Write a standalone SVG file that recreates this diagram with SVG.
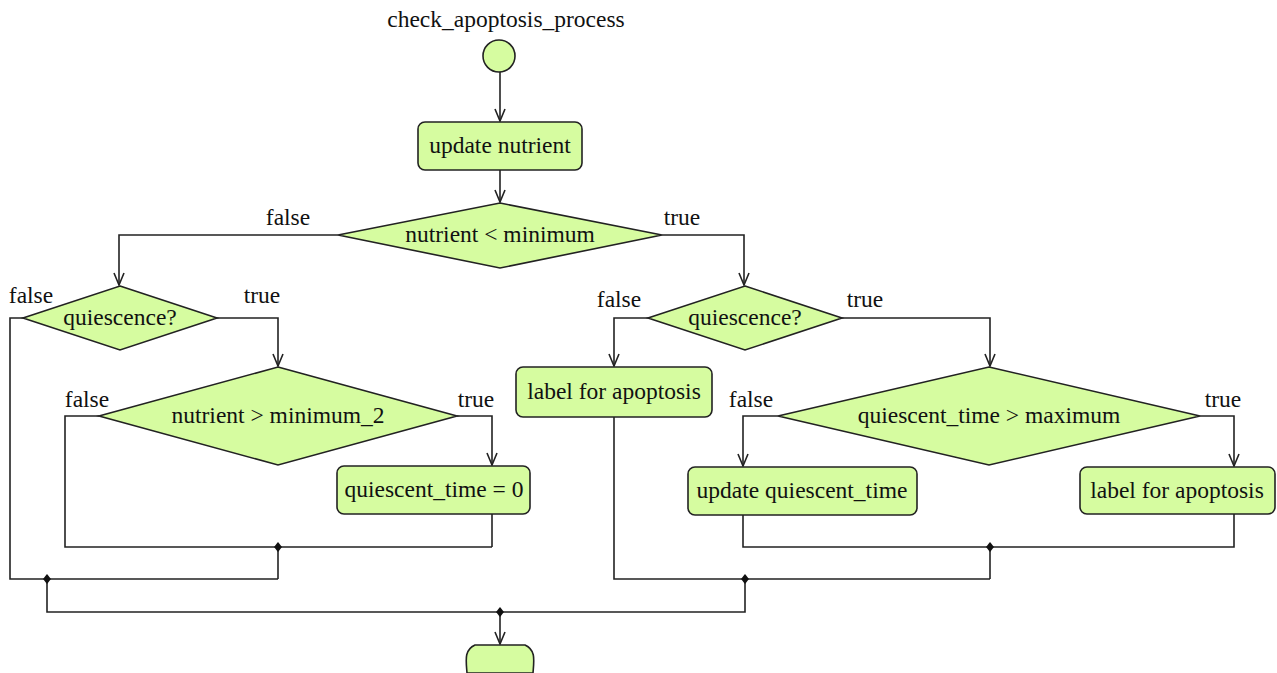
<svg xmlns="http://www.w3.org/2000/svg" width="1277" height="673" viewBox="0 0 1277 673">
  <style>
    .node { fill: #d6fca0; stroke: #222; stroke-width: 1.6; }
    .wire { fill: none; stroke: #222; stroke-width: 1.6; }
    .dot { fill: #111; }
    .lbl { fill: #111; text-anchor: middle; }
  </style>
  <defs>
    <marker id="arrow" markerWidth="16" markerHeight="16" viewBox="-14 -8 16 16" refX="0" refY="0" orient="auto" markerUnits="userSpaceOnUse">
      <path d="M-12,-5 L0,0 L-12,5" fill="none" stroke="#222" stroke-width="1.6"/>
    </marker>
  </defs>

  <text x="506" y="27" class="lbl" font-family="Liberation Serif" font-size="23.5">check_apoptosis_process</text>

  <!-- connectors -->
  <g id="connectors">
    <path class="wire" d="M500,72 V121" marker-end="url(#arrow)"/>
    <path class="wire" d="M500,170 V202" marker-end="url(#arrow)"/>
    <!-- nutrient < minimum : false -->
    <path class="wire" d="M338,235 H119 V285" marker-end="url(#arrow)"/>
    <!-- nutrient < minimum : true -->
    <path class="wire" d="M662,235 H744 V285" marker-end="url(#arrow)"/>
    <!-- left quiescence -->
    <path class="wire" d="M23,318 H10 V579 H278"/>
    <path class="wire" d="M217,318 H278 V366" marker-end="url(#arrow)"/>
    <!-- nutrient > minimum_2 -->
    <path class="wire" d="M99,416 H65 V547 H492"/>
    <path class="wire" d="M457,416 H492 V465" marker-end="url(#arrow)"/>
    <path class="wire" d="M492,514 V547"/>
    <path class="wire" d="M278,547 V579"/>
    <!-- right quiescence -->
    <path class="wire" d="M648,318 H614 V366" marker-end="url(#arrow)"/>
    <path class="wire" d="M614,417 V579 H990"/>
    <path class="wire" d="M842,318 H990 V366" marker-end="url(#arrow)"/>
    <!-- quiescent_time > maximum -->
    <path class="wire" d="M778,416 H743 V466" marker-end="url(#arrow)"/>
    <path class="wire" d="M1200,416 H1234 V466" marker-end="url(#arrow)"/>
    <path class="wire" d="M743,515 V547 H1234 V514"/>
    <path class="wire" d="M990,547 V579"/>
    <!-- final merge -->
    <path class="wire" d="M47,579 V612 H745 V579"/>
    <path class="wire" d="M500,612 V644" marker-end="url(#arrow)"/>
    <!-- junction points -->
    <path class="dot" d="M278,542 L282,547 L278,552 L274,547 Z"/>
    <path class="dot" d="M47,574 L51,579 L47,584 L43,579 Z"/>
    <path class="dot" d="M990,542 L994,547 L990,552 L986,547 Z"/>
    <path class="dot" d="M745,574 L749,579 L745,584 L741,579 Z"/>
    <path class="dot" d="M500,607 L504,612 L500,617 L496,612 Z"/>
  </g>

  <g id="start">
    <circle class="node" cx="499" cy="56" r="16"/>
  </g>

  <g id="update-nutrient">
    <rect class="node" x="418" y="122" width="164" height="48" rx="7"/>
    <text x="500" y="153" class="lbl" font-family="Liberation Serif" font-size="23.5">update nutrient</text>
  </g>

  <g id="nutrient-lt-minimum">
    <polygon class="node" points="500,203 662,235 500,268 338,235"/>
    <text x="500" y="242" class="lbl" font-family="Liberation Serif" font-size="23.5">nutrient &lt; minimum</text>
    <text x="288" y="225" class="lbl" font-family="Liberation Serif" font-size="23.5">false</text>
    <text x="682" y="225" class="lbl" font-family="Liberation Serif" font-size="23.5">true</text>
  </g>

  <g id="quiescence-left">
    <polygon class="node" points="120,286 217,318 120,350 23,318"/>
    <text x="120" y="325" class="lbl" font-family="Liberation Serif" font-size="23.5">quiescence?</text>
    <text x="31" y="303" class="lbl" font-family="Liberation Serif" font-size="23.5">false</text>
    <text x="262" y="303" class="lbl" font-family="Liberation Serif" font-size="23.5">true</text>
  </g>

  <g id="nutrient-gt-minimum2">
    <polygon class="node" points="278,367 457,416 278,465 99,416"/>
    <text x="278" y="423" class="lbl" font-family="Liberation Serif" font-size="23.5">nutrient &gt; minimum_2</text>
    <text x="87" y="407" class="lbl" font-family="Liberation Serif" font-size="23.5">false</text>
    <text x="476" y="407" class="lbl" font-family="Liberation Serif" font-size="23.5">true</text>
  </g>

  <g id="reset-quiescent-time">
    <rect class="node" x="337" y="466" width="193" height="48" rx="7"/>
    <text x="434" y="497" class="lbl" font-family="Liberation Serif" font-size="23.5">quiescent_time = 0</text>
  </g>

  <g id="quiescence-right">
    <polygon class="node" points="745,286 842,318 745,350 648,318"/>
    <text x="745" y="325" class="lbl" font-family="Liberation Serif" font-size="23.5">quiescence?</text>
    <text x="619" y="307" class="lbl" font-family="Liberation Serif" font-size="23.5">false</text>
    <text x="865" y="307" class="lbl" font-family="Liberation Serif" font-size="23.5">true</text>
  </g>

  <g id="label-apoptosis-1">
    <rect class="node" x="516" y="367" width="196" height="50" rx="7"/>
    <text x="614" y="399" class="lbl" font-family="Liberation Serif" font-size="23.5">label for apoptosis</text>
  </g>

  <g id="quiescent-time-gt-maximum">
    <polygon class="node" points="989,367 1200,416 989,465 778,416"/>
    <text x="989" y="423" class="lbl" font-family="Liberation Serif" font-size="23.5">quiescent_time &gt; maximum</text>
    <text x="751" y="407" class="lbl" font-family="Liberation Serif" font-size="23.5">false</text>
    <text x="1223" y="407" class="lbl" font-family="Liberation Serif" font-size="23.5">true</text>
  </g>

  <g id="update-quiescent-time">
    <rect class="node" x="688" y="467" width="229" height="48" rx="7"/>
    <text x="802" y="498" class="lbl" font-family="Liberation Serif" font-size="23.5">update quiescent_time</text>
  </g>

  <g id="label-apoptosis-2">
    <rect class="node" x="1080" y="467" width="195" height="47" rx="7"/>
    <text x="1177" y="498" class="lbl" font-family="Liberation Serif" font-size="23.5">label for apoptosis</text>
  </g>

  <g id="end">
    <path class="node" d="M475,645 H525 C536,650 534,660 533,673 H467 C466,660 464,650 475,645 Z"/>
  </g>
</svg>
